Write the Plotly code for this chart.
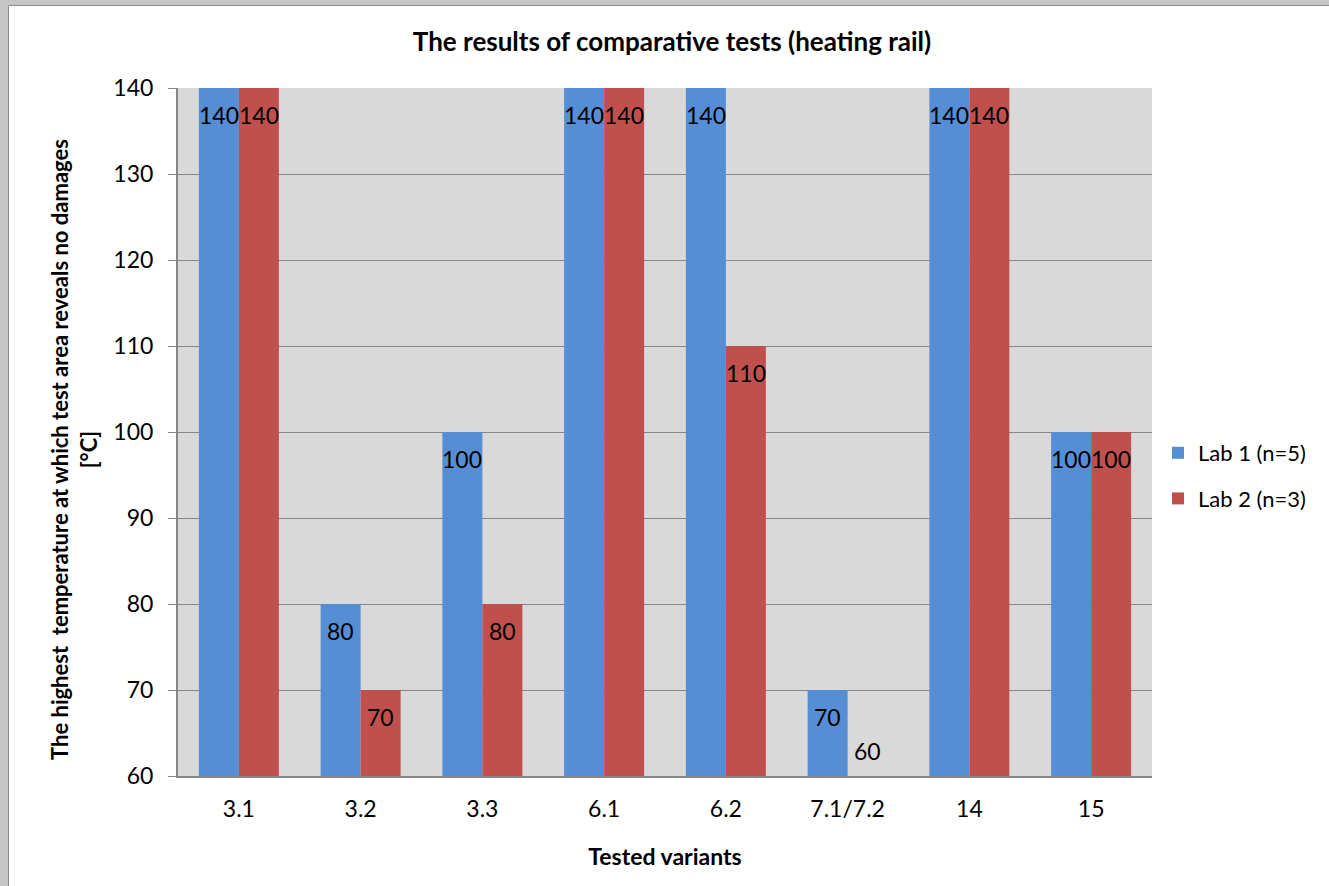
import plotly.graph_objects as go

# Tested variants and the highest temperature without damage [°C]
variants = ["3.1", "3.2", "3.3", "6.1", "6.2", "7.1/7.2", "14", "15"]
lab1 = [140, 80, 100, 140, 140, 70, 140, 100]
lab2 = [140, 70, 80, 140, 110, 60, 140, 100]
series_names = ["Lab 1 (n=5)", "Lab 2 (n=3)"]
series_colors = ["#558ed5", "#c0504d"]

y_min, y_max, y_step = 60, 140, 10

FONT = "Lato, Calibri, Carlito, sans-serif"

# page geometry (pixels)
W, H = 1329, 886
L, R, T, B = 178, 177, 88, 110
plot_w = W - L - R
bargap = 0.343
bar_px = plot_w / len(variants) * (1 - bargap) / 2


def px_x(p):
    return (p - L) / plot_w


def px_y(p):
    return (H - B - p) / (H - T - B)


fig = go.Figure()
for i, (name, vals, col) in enumerate(zip(series_names, [lab1, lab2], series_colors)):
    fig.add_trace(go.Bar(
        x=variants, y=[v - y_min for v in vals], base=y_min,
        name=name, marker=dict(color=col, line=dict(width=0)),
        legendgroup=f"g{i}", hoverinfo="skip",
    ))

# value labels near the top end of each bar (above the base for empty bars)
annotations = []
for i, vals in enumerate([lab1, lab2]):
    shift_x = (-0.5 if i == 0 else 0.5) * bar_px
    for k, v in enumerate(vals):
        inside = v > y_min
        annotations.append(dict(
            x=k, y=v, xref="x", yref="y", text=str(v), showarrow=False,
            xshift=shift_x, yshift=-27 if inside else 25,
            yanchor="middle", xanchor="center",
            font=dict(family=FONT, size=23, color="#000000"),
        ))

# vertical axis title
annotations.append(dict(
    text="<b>The highest  temperature at which test area reveals no damages<br>[°C]</b>",
    xref="paper", yref="paper", x=px_x(74), y=px_y(450),
    xanchor="center", yanchor="middle", textangle=-90, showarrow=False,
    font=dict(family=FONT, size=22, color="#000000"),
))

# window frame on the top and left edges
frame = "#c6c6c6"
edge = "#8c8c8c"
shapes = [
    dict(type="rect", xref="paper", yref="paper", x0=px_x(0), x1=px_x(W), y0=px_y(0), y1=px_y(5),
         fillcolor=frame, line=dict(width=0), layer="above"),
    dict(type="rect", xref="paper", yref="paper", x0=px_x(0), x1=px_x(8), y0=px_y(0), y1=px_y(H),
         fillcolor=frame, line=dict(width=0), layer="above"),
    dict(type="line", xref="paper", yref="paper", x0=px_x(8.5), x1=px_x(W), y0=px_y(5.5), y1=px_y(5.5),
         line=dict(color=edge, width=1), layer="above"),
    dict(type="line", xref="paper", yref="paper", x0=px_x(8.5), x1=px_x(8.5), y0=px_y(5.5), y1=px_y(H),
         line=dict(color=edge, width=1), layer="above"),
]

fig.update_layout(
    width=W, height=H,
    margin=dict(l=L, r=R, t=T, b=B, autoexpand=False),
    paper_bgcolor="#ffffff", plot_bgcolor="#d9d9d9",
    barmode="group", bargap=bargap, bargroupgap=0,
    font=dict(family=FONT, size=23, color="#000000"),
    title=dict(text="<b>The results of comparative tests (heating rail)</b>",
               x=px_x(672), xref="paper", xanchor="center",
               y=1 - 42 / H, yanchor="middle", font=dict(size=26, family=FONT)),
    xaxis=dict(
        type="category", range=[-0.5, len(variants) - 0.5],
        showgrid=False, showline=True, linecolor="#868686", linewidth=2,
        ticks="", tickfont=dict(size=23, family=FONT), ticklabelstandoff=11,
        title=dict(text="<b>Tested variants</b>", font=dict(size=23, family=FONT), standoff=28),
        fixedrange=True,
    ),
    yaxis=dict(
        range=[y_min, y_max], tick0=y_min, dtick=y_step,
        showgrid=True, gridcolor="#868686", gridwidth=1,
        showline=True, linecolor="#868686", linewidth=2,
        ticks="outside", ticklen=8, tickcolor="#868686", tickwidth=1,
        tickfont=dict(size=23, family=FONT), ticklabelstandoff=10,
        zeroline=False,
        fixedrange=True,
    ),
    legend=dict(
        x=px_x(1158), xanchor="left", y=px_y(476), yanchor="middle",
        font=dict(size=22, family=FONT), tracegroupgap=14,
        bgcolor="rgba(0,0,0,0)", itemwidth=30,
    ),
    annotations=annotations,
    shapes=shapes,
)

fig.write_html("out.html")
